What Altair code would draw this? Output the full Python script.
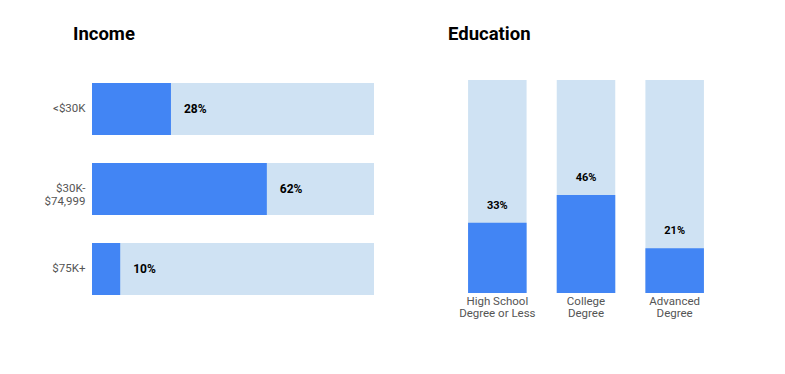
import altair as alt
import pandas as pd

income_cats = ["<$30K", "$30K-|$74,999", "$75K+"]
income_vals = [28, 62, 10]
edu_cats = ["High School|Degree or Less", "College|Degree", "Advanced|Degree"]
edu_vals = [33, 46, 21]

DARK = "#4285f4"
LIGHT = "#cfe2f3"
FONT = "Roboto"
LABEL_COLOR = "#555555"

inc = pd.DataFrame({"cat": income_cats, "value": income_vals, "full": [100] * 3})
edu = pd.DataFrame({"cat": edu_cats, "value": edu_vals, "full": [100] * 3})

label_axis = dict(title=None, labelExpr="split(datum.label, '|')", ticks=False, domain=False,
                  labelFontSize=11.5, labelColor=LABEL_COLOR, labelFont=FONT, labelLineHeight=12.5)

title_style = dict(anchor="start", frame="group", fontSize=18.5, font=FONT,
                   fontWeight="bold", color="#000000", offset=37)

# Income (horizontal bars)
ibase = alt.Chart(inc).transform_calculate(label="datum.value + '%'").encode(
    y=alt.Y("cat:N", sort=income_cats,
            scale=alt.Scale(paddingInner=0.35, paddingOuter=0.0375),
            axis=alt.Axis(labelPadding=7, **label_axis))
)
ibg = ibase.mark_bar(color=LIGHT).encode(
    x=alt.X("full:Q", scale=alt.Scale(domain=[0, 100]), axis=None))
ifg = ibase.mark_bar(color=DARK).encode(x="value:Q")
itx = ibase.mark_text(align="left", baseline="middle", dx=13, fontWeight="bold",
                      fontSize=12, font=FONT, color="#000000").encode(
    x="value:Q", text="label:N")
income = alt.layer(ibg, ifg, itx).properties(
    width=282, height=218,
    title=alt.TitleParams("Income", dx=-19, **title_style))

# Education (vertical bars)
ebase = alt.Chart(edu).transform_calculate(label="datum.value + '%'").encode(
    x=alt.X("cat:N", sort=edu_cats,
            scale=alt.Scale(paddingInner=0.34, paddingOuter=0.17),
            axis=alt.Axis(labelPadding=2, labelAngle=0, **label_axis))
)
ebg = ebase.mark_bar(color=LIGHT).encode(
    y=alt.Y("full:Q", scale=alt.Scale(domain=[0, 100]), axis=None))
efg = ebase.mark_bar(color=DARK).encode(y="value:Q")
etx = ebase.mark_text(align="center", baseline="middle", dy=-17, fontWeight="bold",
                      fontSize=11, font=FONT, color="#000000").encode(
    y="value:Q", text="label:N")
education = alt.layer(ebg, efg, etx).properties(
    width=266, height=213,
    title=alt.TitleParams("Education", dx=-5, **title_style))

chart = alt.hconcat(income, education, spacing=74).properties(
    padding={"left": 35, "top": 16, "right": 5, "bottom": 5}
).configure_view(stroke=None)

chart.save("out.html", embed_options={"renderer": "svg", "actions": False})
